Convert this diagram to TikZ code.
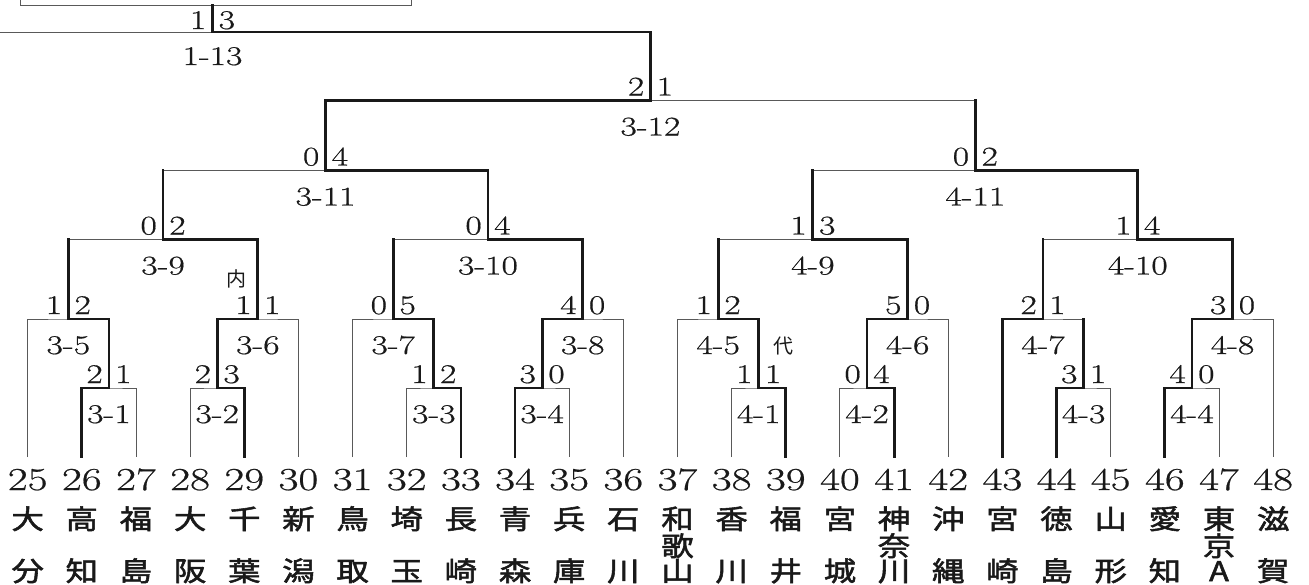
\documentclass[tikz,border=0pt]{standalone}
\usepackage{fontspec}
\setmainfont{Latin Modern Roman}
\newfontfamily\numfont{Latin Modern Roman}[FakeStretch=1.32, FakeBold=0.6]
\newfontfamily\seedfont{Latin Modern Roman}[FakeStretch=1.35, FakeBold=0.6]
\newfontfamily\jpfont{Noto Sans CJK JP}[FakeStretch=1.2, FakeBold=2]
\newfontfamily\jpnote{Noto Sans CJK JP}
\usetikzlibrary{calc}

\tikzset{
  thinline/.style={line width=1pt, draw=black!65},
  thickline/.style={line width=2.8pt, draw=black!90, line cap=rect},
  scoreL/.style={anchor=base east, inner sep=0pt, text=black!90,
    font=\numfont\fontsize{27}{27}\selectfont},
  scoreR/.style={anchor=base west, inner sep=0pt, text=black!90,
    font=\numfont\fontsize{27}{27}\selectfont},
  tag/.style={anchor=base, inner sep=0pt, text=black!90,
    font=\numfont\fontsize{27}{27}\selectfont},
  seed/.style={anchor=base, inner sep=0pt, text=black!90,
    font=\seedfont\fontsize{32}{32}\selectfont},
  pref/.style={anchor=base, inner sep=0pt, text=black!90,
    font=\jpfont\fontsize{27}{27}\selectfont},
  note/.style={anchor=center, inner sep=0pt, text=black!90,
    font=\jpnote\fontsize{20}{20}\selectfont},
}

% a match: apex name, left entrant, right entrant, level, left score, right score, match number
\newcommand\bout[7]{%
  \path let \p1=(#2), \p2=(#3) in coordinate (#1) at ({(\x1+\x2)/2},#4);
  \draw[thinline] (#2) |- (#1) -| (#3);
  \node[scoreL] (#1-l) at ([shift={(-6,-5)}]#1) {#5};
  \node[scoreR] (#1-r) at ([shift={(6,-5)}]#1) {#6};
  \node[tag] (#1-t) at ([shift={(0,35)}]#1) {#7};
}
% winner's line: from entrant up and across to the apex
\newcommand\adv[2]{\draw[thickline] (#1) |- (#2);}
% loser's line: a previous winner rising to the level where it lost
\newcommand\halt[2]{\draw[thickline] (#1) -- (#1 |- #2);}

\begin{document}
\begin{tikzpicture}[x=1pt,y=-1pt]
\useasboundingbox (0,0) rectangle (1309,584);

\def\ya{388}
\def\yb{319}
\def\yc{239.5}
\def\yd{170.5}
\def\ye{100.5}
\def\yf{32}

% entrants
\foreach \n/\i/\a/\b in {25/0/大/分, 26/1/高/知, 27/2/福/島, 28/3/大/阪,
    29/4/千/葉, 30/5/新/潟, 31/6/鳥/取, 32/7/埼/玉, 33/8/長/崎, 34/9/青/森,
    35/10/兵/庫, 36/11/石/川, 37/12/和/山, 38/13/香/川, 39/14/福/井,
    40/15/宮/城, 41/16/神/川, 42/17/沖/縄, 43/18/宮/崎, 44/19/徳/島,
    45/20/山/形, 46/21/愛/知, 47/22/東/A, 48/23/滋/賀}{
  \coordinate (l\n) at ({27.7+54.15*\i},457);
  \node[seed] (n\n) at ({27.7+54.15*\i},490) {\n};
  \node[pref] (p\n a) at ({27.7+54.15*\i},529) {\a};
  \node[pref] (p\n c) at ({27.7+54.15*\i},581) {\b};
}
\node[pref] (p37b) at (p37a |- 0,556) {歌};
\node[pref] (p41b) at (p41a |- 0,556) {奈};
\node[pref] (p47b) at (p47a |- 0,556) {京};

% first round
\bout{m31}{l26}{l27}{\ya}{2}{1}{3-1}
\bout{m32}{l28}{l29}{\ya}{2}{3}{3-2}
\bout{m33}{l32}{l33}{\ya}{1}{2}{3-3}
\bout{m34}{l34}{l35}{\ya}{3}{0}{3-4}
\bout{m41}{l38}{l39}{\ya}{1}{1}{4-1}
\bout{m42}{l40}{l41}{\ya}{0}{4}{4-2}
\bout{m43}{l44}{l45}{\ya}{3}{1}{4-3}
\bout{m44}{l46}{l47}{\ya}{4}{0}{4-4}
% second round
\bout{m35}{l25}{m31}{\yb}{1}{2}{3-5}
\bout{m36}{m32}{l30}{\yb}{1}{1}{3-6}
\bout{m37}{l31}{m33}{\yb}{0}{5}{3-7}
\bout{m38}{m34}{l36}{\yb}{4}{0}{3-8}
\bout{m45}{l37}{m41}{\yb}{1}{2}{4-5}
\bout{m46}{m42}{l42}{\yb}{5}{0}{4-6}
\bout{m47}{l43}{m43}{\yb}{2}{1}{4-7}
\bout{m48}{m44}{l48}{\yb}{3}{0}{4-8}
% third round
\bout{m39}{m35}{m36}{\yc}{0}{2}{3-9}
\bout{m310}{m37}{m38}{\yc}{0}{4}{3-10}
\bout{m49}{m45}{m46}{\yc}{1}{3}{4-9}
\bout{m410}{m47}{m48}{\yc}{1}{4}{4-10}
% fourth round
\bout{m311}{m39}{m310}{\yd}{0}{4}{3-11}
\bout{m411}{m49}{m410}{\yd}{0}{2}{4-11}
% fifth round
\bout{m312}{m311}{m411}{\ye}{2}{1}{3-12}

% top match, joining the other half of the draw
\coordinate (m113) at (212.5,\yf);
\coordinate (west) at (-2,\yf);
\coordinate (final) at (212.5,5);
\draw[thinline] (west) -- (m113);
\draw[thinline] (m312) |- (m113);
\node[scoreL] (m113-l) at ([shift={(-6,-3)}]m113) {1};
\node[scoreR] (m113-r) at ([shift={(6,-3)}]m113) {3};
\node[tag] (m113-t) at ([shift={(0,33)}]m113) {1-13};
\draw[thinline] (20,-2) -- (20,5) -- (411,5) -- (411,-2);

% notes on drawn games
\node[note] (uchi) at (236.5,279) {内};
\node[note] (dai) at (783,346) {代};

% winners' lines
\adv{l26}{m31}
\adv{l29}{m32}
\adv{l33}{m33}
\adv{l34}{m34}
\adv{l39}{m41}
\adv{l41}{m42}
\adv{l44}{m43}
\adv{l46}{m44}
\adv{m31}{m35}
\adv{m32}{m36}
\adv{m33}{m37}
\adv{m34}{m38}
\adv{m41}{m45}
\adv{m42}{m46}
\adv{l43}{m47} \halt{m43}{m47}
\adv{m44}{m48}
\adv{m36}{m39} \halt{m35}{m39}
\adv{m38}{m310} \halt{m37}{m310}
\adv{m46}{m49} \halt{m45}{m49}
\adv{m48}{m410} \halt{m47}{m410}
\adv{m310}{m311} \halt{m39}{m311}
\adv{m410}{m411} \halt{m49}{m411}
\adv{m311}{m312} \halt{m411}{m312}
\adv{m312}{m113}
\draw[thickline] (m113) -- (final);
\end{tikzpicture}
\end{document}
